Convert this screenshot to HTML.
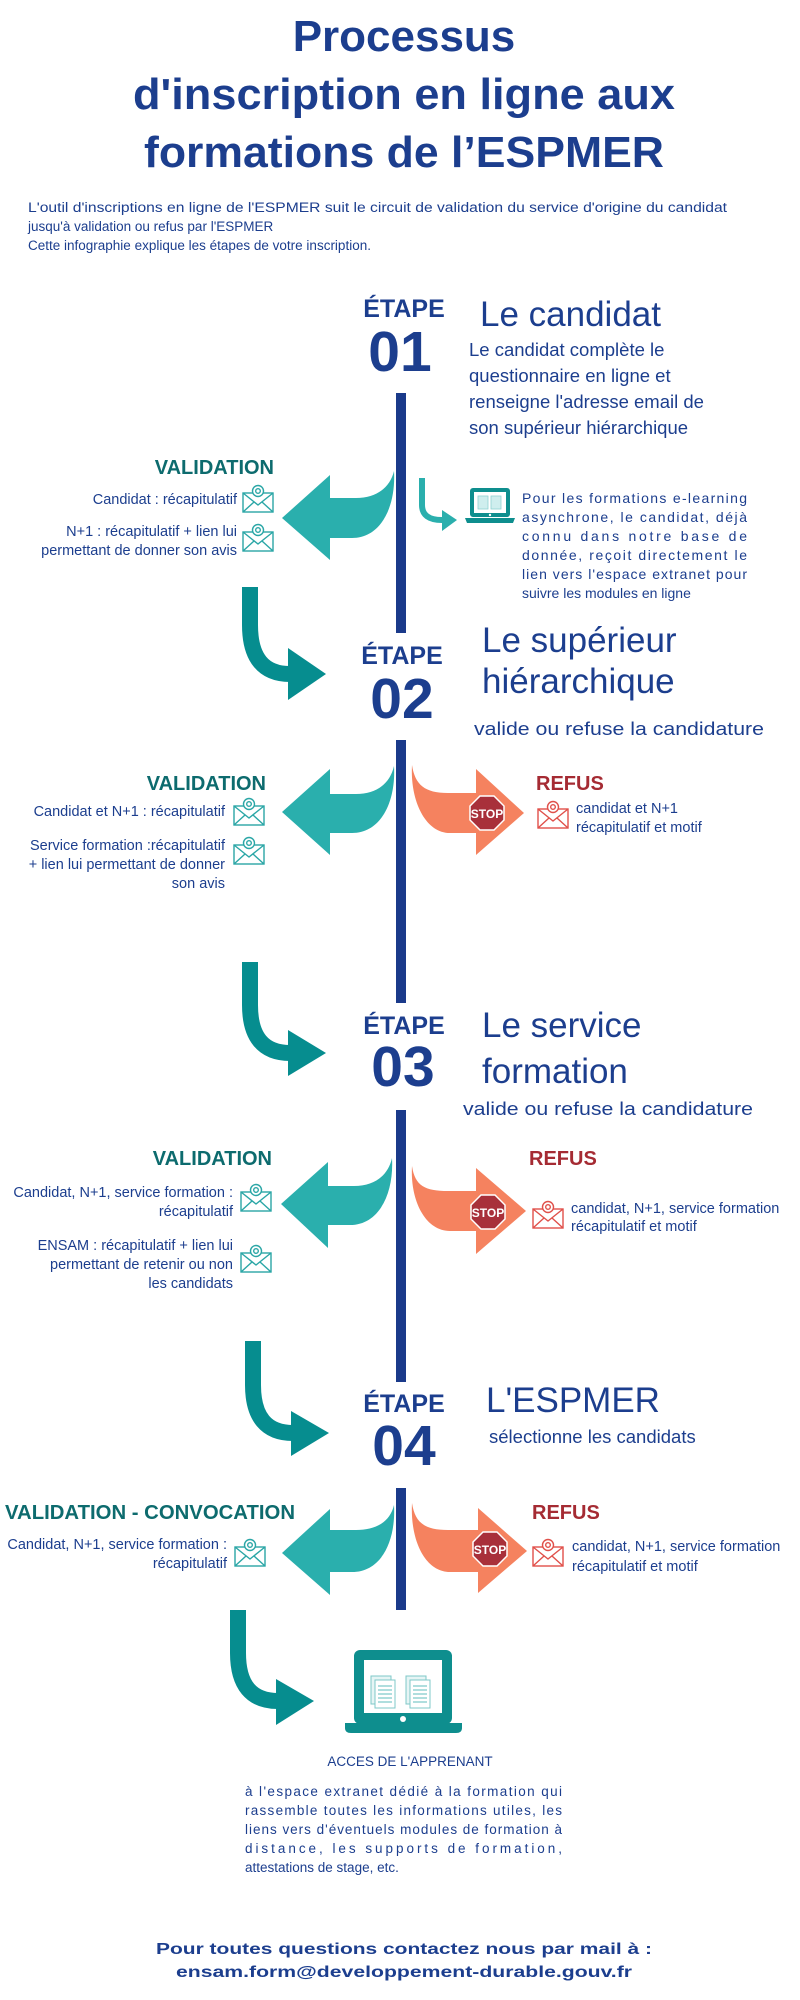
<!DOCTYPE html>
<html><head><meta charset="utf-8"><style>
html,body{margin:0;padding:0;background:#fff;}
svg{display:block;font-family:"Liberation Sans",sans-serif;}
.n{fill:#1c3e8e}
.t{font-size:14.5px}
</style></head><body>
<svg width="800" height="2000" viewBox="0 0 800 2000" xmlns="http://www.w3.org/2000/svg">
<defs>
<g id="envT" fill="none" stroke="#2aa6a6" stroke-width="1.4">
<rect x="1" y="9" width="30" height="19" fill="#fff"/>
<polyline points="1,9 16,21 31,9"/>
<line x1="1" y1="28" x2="12" y2="18"/><line x1="31" y1="28" x2="20" y2="18"/>
<circle cx="16" cy="7" r="5.5" fill="#fff"/><circle cx="16" cy="7" r="2.3"/>
</g>
<g id="envR" fill="none" stroke="#e0504a" stroke-width="1.4">
<rect x="1" y="9" width="30" height="19" fill="#fff"/>
<polyline points="1,9 16,21 31,9"/>
<line x1="1" y1="28" x2="12" y2="18"/><line x1="31" y1="28" x2="20" y2="18"/>
<circle cx="16" cy="7" r="5.5" fill="#fff"/><circle cx="16" cy="7" r="2.3"/>
</g>
<g id="stop">
<polygon points="-7,-17 7,-17 17,-7 17,7 7,17 -7,17 -17,7 -17,-7" fill="#a8303a" stroke="#fff" stroke-width="1.5"/>
<text x="0" y="5" text-anchor="middle" font-size="12" font-weight="bold" fill="#fff">STOP</text>
</g>
</defs>

<!-- Title -->
<g class="n" font-weight="bold" font-size="44" text-anchor="middle">
<text x="404" y="51">Processus</text>
<text x="404" y="109" textLength="542" lengthAdjust="spacingAndGlyphs">d'inscription en ligne aux</text>
<text x="404" y="167" textLength="520" lengthAdjust="spacingAndGlyphs">formations de l’ESPMER</text>
</g>
<g class="n" font-size="13.5">
<text x="28" y="212" textLength="699" lengthAdjust="spacingAndGlyphs">L'outil d'inscriptions en ligne de l'ESPMER suit le circuit de validation du service d'origine du candidat</text>
<text x="28" y="231">jusqu'à validation ou refus par l'ESPMER</text>
<text x="28" y="250">Cette infographie explique les étapes de votre inscription.</text>
</g>

<!-- vertical line segments -->
<g fill="#1a3a8a">
<rect x="396" y="393" width="10" height="240"/>
<rect x="396" y="740" width="10" height="263"/>
<rect x="396" y="1110" width="10" height="272"/>
<rect x="396" y="1488" width="10" height="122"/>
</g>

<!-- Etapes -->
<g class="n" font-weight="bold" text-anchor="middle">
<text x="404" y="317" font-size="25">ÉTAPE</text>
<text x="400" y="371" font-size="57">01</text>
<text x="402" y="664" font-size="25">ÉTAPE</text>
<text x="402" y="718" font-size="57">02</text>
<text x="404" y="1034" font-size="25">ÉTAPE</text>
<text x="403" y="1086" font-size="57">03</text>
<text x="404" y="1412" font-size="25">ÉTAPE</text>
<text x="404" y="1465" font-size="57">04</text>
</g>
<g class="n" font-size="35">
<text x="480" y="326">Le candidat</text>
<text x="482" y="652">Le supérieur</text>
<text x="482" y="693">hiérarchique</text>
<text x="482" y="1037">Le service</text>
<text x="482" y="1083">formation</text>
<text x="486" y="1412">L'ESPMER</text>
</g>
<g class="n" font-size="18.5">
<text x="469" y="356">Le candidat complète le</text>
<text x="469" y="382">questionnaire en ligne et</text>
<text x="469" y="408">renseigne l'adresse email de</text>
<text x="469" y="434">son supérieur hiérarchique</text>
<text x="474" y="735" textLength="290" lengthAdjust="spacingAndGlyphs">valide ou refuse la candidature</text>
<text x="463" y="1115" textLength="290" lengthAdjust="spacingAndGlyphs">valide ou refuse la candidature</text>
<text x="489" y="1443">sélectionne les candidats</text>
</g>

<!-- Step 1 row -->
<text x="274" y="474" text-anchor="end" font-size="20" font-weight="bold" fill="#0d6b6e">VALIDATION</text>
<g class="n t" text-anchor="end">
<text x="237" y="504">Candidat : récapitulatif</text>
<text x="237" y="536">N+1 : récapitulatif + lien lui</text>
<text x="237" y="555">permettant de donner son avis</text>
</g>
<use href="#envT" x="242" y="484"/>
<use href="#envT" x="242" y="523"/>
<path d="M394,471 C396,505 382,538 352,538 L330,538 L330,560 L282,518 L330,475 L330,498 L356,498 C376,498 390,488 394,471 Z" fill="#2aafad"/>
<path d="M422,478 L422,505 Q422,520 442,520" fill="none" stroke="#2aafad" stroke-width="6"/>
<polygon points="442,510 442,531 457,520" fill="#2aafad"/>
<!-- laptop small -->
<g>
<rect x="470" y="488" width="40" height="29" rx="3" fill="#0e8e8e"/>
<rect x="474" y="492" width="32" height="21" fill="#fff"/>
<rect x="478" y="496" width="10" height="13" fill="#cfeeee" stroke="#8fd2d2" stroke-width="0.8"/>
<rect x="491" y="496" width="10" height="13" fill="#cfeeee" stroke="#8fd2d2" stroke-width="0.8"/>
<path d="M465,518 L515,518 L513,523 L467,523 Z" fill="#0e8e8e"/>
<circle cx="490" cy="515" r="1.2" fill="#fff"/>
</g>
<g class="n" font-size="14">
<text x="522" y="503" textLength="225" lengthAdjust="spacing">Pour les formations e-learning</text>
<text x="522" y="522" textLength="225" lengthAdjust="spacing">asynchrone, le candidat, déjà</text>
<text x="522" y="541" textLength="225" lengthAdjust="spacing">connu dans notre base de</text>
<text x="522" y="560" textLength="225" lengthAdjust="spacing">donnée, reçoit directement le</text>
<text x="522" y="579" textLength="225" lengthAdjust="spacing">lien vers l'espace extranet pour</text>
<text x="522" y="598">suivre les modules en ligne</text>
</g>

<!-- down arrows -->
<g fill="none" stroke="#068d8f" stroke-width="16">
<path d="M250,587 L250,625 Q250,674 290,674"/>
<path d="M250,962 L250,1005 Q250,1053 290,1053"/>
<path d="M253,1341 L253,1385 Q253,1433 293,1433"/>
<path d="M238,1610 L238,1653 Q238,1701 278,1701"/>
</g>
<g fill="#068d8f">
<polygon points="288,648 288,700 326,674"/>
<polygon points="288,1030 288,1076 326,1053"/>
<polygon points="291,1411 291,1456 329,1433"/>
<polygon points="276,1679 276,1725 314,1701"/>
</g>

<!-- Step 2 row -->
<text x="266" y="790" text-anchor="end" font-size="20" font-weight="bold" fill="#0d6b6e">VALIDATION</text>
<g class="n t" text-anchor="end">
<text x="225" y="816">Candidat et N+1 : récapitulatif</text>
<text x="225" y="850">Service formation  :récapitulatif</text>
<text x="225" y="869">+ lien lui permettant de donner</text>
<text x="225" y="888">son avis</text>
</g>
<use href="#envT" x="233" y="797"/>
<use href="#envT" x="233" y="836"/>
<path d="M394,766 C396,800 382,833 352,833 L330,833 L330,855 L282,812 L330,769 L330,794 L356,794 C376,794 390,784 394,766 Z" fill="#2aafad"/>
<path d="M412,765 C415,785 425,793 448,793 L476,793 L476,769 L524,813 L476,855 L476,833 L450,833 C425,833 410,800 412,765 Z" fill="#f5825f"/>
<use href="#stop" x="487" y="813"/>
<text x="536" y="790" font-size="20" font-weight="bold" fill="#a52b33">REFUS</text>
<use href="#envR" x="537" y="800"/>
<g class="n t">
<text x="576" y="813">candidat et N+1</text>
<text x="576" y="832">récapitulatif et motif</text>
</g>

<!-- Step 3 row -->
<text x="272" y="1165" text-anchor="end" font-size="20" font-weight="bold" fill="#0d6b6e">VALIDATION</text>
<g class="n t" text-anchor="end">
<text x="233" y="1197">Candidat, N+1, service formation :</text>
<text x="233" y="1216">récapitulatif</text>
<text x="233" y="1250">ENSAM : récapitulatif + lien lui</text>
<text x="233" y="1269">permettant de retenir ou non</text>
<text x="233" y="1288">les candidats</text>
</g>
<use href="#envT" x="240" y="1183"/>
<use href="#envT" x="240" y="1244"/>
<path d="M392,1158 C394,1192 380,1225 350,1225 L328,1225 L328,1248 L281,1204 L328,1162 L328,1186 L354,1186 C374,1186 388,1176 392,1158 Z" fill="#2aafad"/>
<path d="M412,1166 C415,1186 425,1191 448,1191 L476,1191 L476,1168 L526,1211 L476,1254 L476,1231 L450,1231 C425,1231 410,1200 412,1166 Z" fill="#f5825f"/>
<use href="#stop" x="488" y="1212"/>
<text x="529" y="1165" font-size="20" font-weight="bold" fill="#a52b33">REFUS</text>
<use href="#envR" x="532" y="1200"/>
<g class="n t">
<text x="571" y="1213">candidat, N+1, service formation</text>
<text x="571" y="1231">récapitulatif et motif</text>
</g>

<!-- Step 4 row -->
<text x="5" y="1519" font-size="20" font-weight="bold" fill="#0d6b6e" textLength="290" lengthAdjust="spacingAndGlyphs">VALIDATION - CONVOCATION</text>
<g class="n t" text-anchor="end">
<text x="227" y="1549">Candidat, N+1, service formation :</text>
<text x="227" y="1568">récapitulatif</text>
</g>
<use href="#envT" x="234" y="1538"/>
<path d="M394,1505 C396,1540 382,1572 352,1572 L330,1572 L330,1595 L282,1553 L330,1509 L330,1530 L356,1530 C376,1530 390,1522 394,1505 Z" fill="#2aafad"/>
<path d="M412,1503 C415,1523 425,1530 448,1530 L478,1530 L478,1508 L527,1551 L478,1593 L478,1572 L450,1572 C425,1572 410,1540 412,1503 Z" fill="#f5825f"/>
<use href="#stop" x="490" y="1549"/>
<text x="532" y="1519" font-size="20" font-weight="bold" fill="#a52b33">REFUS</text>
<use href="#envR" x="532" y="1538"/>
<g class="n t">
<text x="572" y="1551">candidat, N+1, service formation</text>
<text x="572" y="1571">récapitulatif et motif</text>
</g>

<!-- big laptop -->
<g>
<rect x="354" y="1650" width="98" height="74" rx="6" fill="#0e8e8e"/>
<rect x="364" y="1660" width="78" height="53" fill="#fff"/>
<rect x="371" y="1676" width="20" height="28" fill="#e6f5f5" stroke="#7fc8c8"/>
<rect x="375" y="1680" width="20" height="28" fill="#fff" stroke="#7fc8c8"/>
<rect x="406" y="1676" width="20" height="28" fill="#e6f5f5" stroke="#7fc8c8"/>
<rect x="410" y="1680" width="20" height="28" fill="#fff" stroke="#7fc8c8"/>
<g stroke="#5fbcbc" stroke-width="1">
<line x1="378" y1="1686" x2="392" y2="1686"/><line x1="378" y1="1690" x2="392" y2="1690"/><line x1="378" y1="1694" x2="392" y2="1694"/><line x1="378" y1="1698" x2="392" y2="1698"/><line x1="378" y1="1702" x2="392" y2="1702"/>
<line x1="413" y1="1686" x2="427" y2="1686"/><line x1="413" y1="1690" x2="427" y2="1690"/><line x1="413" y1="1694" x2="427" y2="1694"/><line x1="413" y1="1698" x2="427" y2="1698"/><line x1="413" y1="1702" x2="427" y2="1702"/>
</g>
<path d="M345,1723 L462,1723 L462,1728 Q462,1733 456,1733 L351,1733 Q345,1733 345,1728 Z" fill="#0e8e8e"/>
<circle cx="403" cy="1719" r="3" fill="#fff"/>
</g>
<text x="410" y="1766" text-anchor="middle" class="n" font-size="13.5">ACCES DE L'APPRENANT</text>
<g class="n" font-size="13.5">
<text x="245" y="1796" textLength="317" lengthAdjust="spacing">à l'espace extranet dédié à la formation qui</text>
<text x="245" y="1815" textLength="317" lengthAdjust="spacing">rassemble toutes les informations utiles, les</text>
<text x="245" y="1834" textLength="317" lengthAdjust="spacing">liens vers d'éventuels modules de formation à</text>
<text x="245" y="1853" textLength="317" lengthAdjust="spacing">distance, les supports de formation,</text>
<text x="245" y="1872">attestations de stage, etc.</text>
</g>

<!-- footer -->
<g class="n" font-weight="bold" font-size="16" text-anchor="middle">
<text x="404" y="1954" textLength="496" lengthAdjust="spacingAndGlyphs">Pour toutes questions contactez nous par mail à :</text>
<text x="404" y="1977" textLength="456" lengthAdjust="spacingAndGlyphs">ensam.form@developpement-durable.gouv.fr</text>
</g>
</svg>
</body></html>
